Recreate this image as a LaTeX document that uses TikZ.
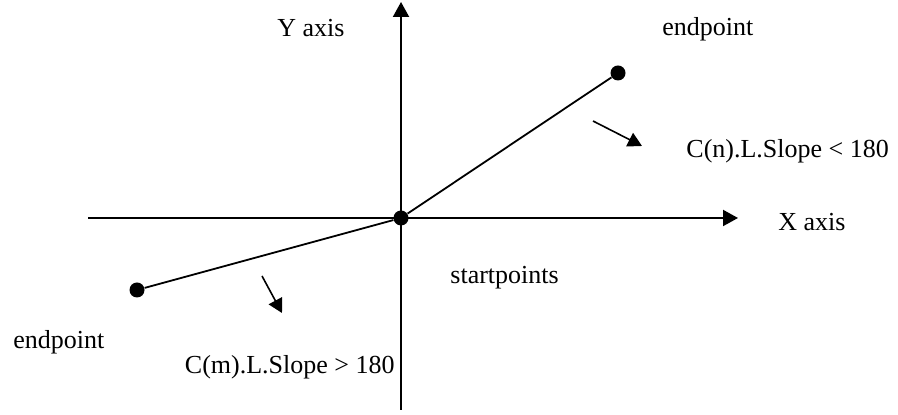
\documentclass[tikz,border=0pt]{standalone}
\usepackage{fontspec}
\setmainfont{Liberation Serif}
\usetikzlibrary{arrows.meta}

\begin{document}
\begin{tikzpicture}[
  x=0.5pt, y=-0.5pt,
  font=\fontsize{13}{15}\selectfont,
  axis/.style={draw=black, line width=1pt, -{Triangle[length=7.5pt,width=8pt]}},
  seg/.style={draw=black, line width=0.9pt},
  dir/.style={draw=black, line width=0.8pt, -{Triangle[length=7pt,width=7.5pt]}},
  dot/.style={circle, fill=black, inner sep=0pt, minimum size=7.5pt},
  lbl/.style={inner sep=0pt, anchor=base west},
]
\useasboundingbox (0,0) rectangle (898,415);

% ---------- axes ----------
\coordinate (xl) at (88,218);
\coordinate (xr) at (738,218);
\coordinate (yb) at (401,410);
\coordinate (yt) at (401,2);
\draw[axis] (xl) -- (xr);
\draw[axis] (yb) -- (yt);

% ---------- points ----------
\node[dot] (start) at (401,218) {};
\node[dot] (endn) at (618,73) {};
\node[dot] (endm) at (137,290) {};
\draw[seg] (start) -- (endn);
\draw[seg] (start) -- (endm);

% ---------- slope directions ----------
\coordinate (dn1) at (593,121);
\coordinate (dn2) at (642,146);
\draw[dir] (dn1) -- (dn2);
\coordinate (dm1) at (262,276);
\coordinate (dm2) at (282,313);
\draw[dir] (dm1) -- (dm2);

% ---------- labels ----------
\node[lbl] (ylab) at (277,37) {Y axis};
\node[lbl] (xlab) at (778,231) {X axis};
\node[lbl] (endnlab) at (662,36) {endpoint};
\node[lbl] (endmlab) at (13,349) {endpoint};
\node[lbl] (startlab) at (450,284) {startpoints};
\node[lbl] (slopen) at (686,158) {C(n).L.Slope < 180};
\node[lbl, anchor=base east] (slopem) at (395,374) {C(m).L.Slope > 180};

\end{tikzpicture}
\end{document}
